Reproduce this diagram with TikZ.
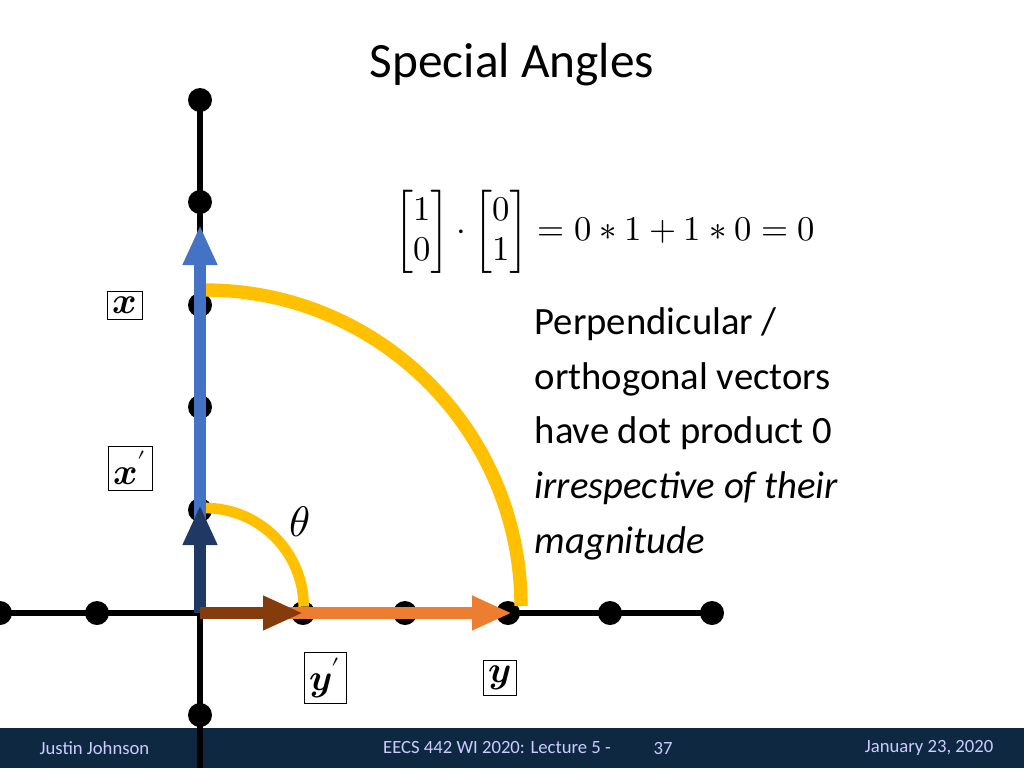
\documentclass[tikz,border=0pt]{standalone}
\usepackage{amsmath}
\usepackage{fontspec}
\usepackage{unicode-math}
\setmainfont{Carlito}
\setmathfont{Latin Modern Math}
\definecolor{ublue}{HTML}{4472C4}
\definecolor{dblue}{HTML}{1F3864}
\definecolor{uorange}{HTML}{ED7D31}
\definecolor{ubrown}{HTML}{843C0C}
\definecolor{ugold}{HTML}{FFC000}
\definecolor{foot}{HTML}{0E2841}
\usetikzlibrary{arrows.meta}
\tikzset{dot/.style={circle,fill=black,inner sep=0pt,minimum size=18pt},
lbl/.style={draw,thin,inner sep=4pt,font=\fontsize{28}{30}\selectfont},
vec/.style={line width=9pt,-{Triangle[length=30pt,width=24pt]}},
arc/.style={ugold,line width=10pt},
body/.style={font=\fontsize{29}{41}\selectfont,align=left,anchor=north west},
ft/.style={font=\fontsize{14}{16}\selectfont,text=white!80!blue}}
\begin{document}
\begin{tikzpicture}[x=0.75pt,y=-0.75pt]
\useasboundingbox (0,0) rectangle (1024,768);
\node at (512,65) {\fontsize{37}{40}\selectfont Special Angles};
\draw[line width=5pt] (200,100) -- (200,768);
\draw[line width=5pt] (0,613) -- (712,613);
\foreach \y/\n in {100/a,202/b,305/c,407/d,510/e,715/f} \node[dot] (v\n) at (200,\y) {};
\foreach \x/\n in {0/a,97/b,303/c,405/d,508/e,610/f,712/g} \node[dot] (h\n) at (\x,613) {};
\coordinate (o) at (200,613);
\draw[arc] (205,290) arc[start angle=90,end angle=0,radius=237pt];
\draw[arc,line width=8pt] (205,508) arc[start angle=90,end angle=0,radius=74pt];
\draw[vec,ublue] (o) -- (200,225);
\draw[vec,dblue] (o) -- (200,505);
\draw[vec,uorange] (o) -- (512,613);
\draw[vec,ubrown] (o) -- (303,613);
\fill[foot] (0,728) rectangle (1024,768);
\draw[line width=5pt] (200,728) -- (200,768);
\node[lbl] (lx) at (125,305) {$\symbfit{x}$};
\node[lbl] (lxp) at (130,468) {$\symbfit{x}'$};
\node[lbl] (lyp) at (325,678) {$\symbfit{y}'$};
\node[lbl] (ly) at (500,678) {$\symbfit{y}$};
\node (th) at (300,522) {\fontsize{32}{34}\selectfont$\theta$};
\node (eq) at (605,232) {\fontsize{26}{30}\selectfont$\begin{bmatrix}1\\0\end{bmatrix}\cdot\begin{bmatrix}0\\1\end{bmatrix}=0*1+1*0=0$};
\node[body] (txt) at (530,303) {Perpendicular /\\orthogonal vectors\\have dot product 0\\\textit{irrespective of their}\\\textit{magnitude}};
\node[ft,anchor=west] (f1) at (35,748) {Justin Johnson};
\node[ft] (f2) at (497,748) {EECS 442 WI 2020: Lecture 5 -};
\node[ft] (f3) at (663,748) {37};
\node[ft,anchor=east] (f4) at (998,748) {January 23, 2020};
\end{tikzpicture}
\end{document}
